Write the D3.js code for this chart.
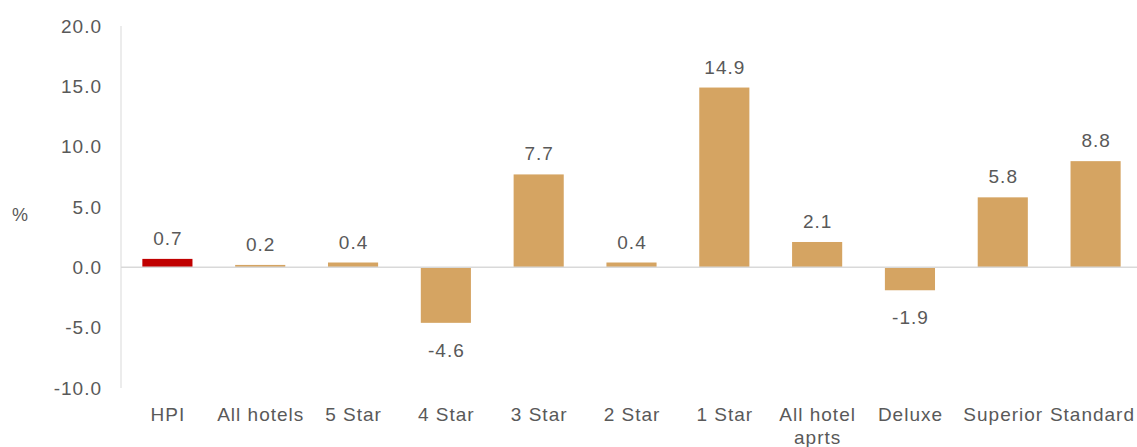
<!DOCTYPE html>
<html><head><meta charset="utf-8">
<script src="https://cdn.jsdelivr.net/npm/d3@7"></script>
<style>body{margin:0;background:#fff}text{font-family:"Liberation Sans",Arial,sans-serif}</style>
</head><body><svg id="c" width="1137" height="447"></svg>
<script>
const categories = ["HPI","All hotels","5 Star","4 Star","3 Star","2 Star","1 Star","All hotel aprts","Deluxe","Superior","Standard"];
const values = [0.7,0.2,0.4,-4.6,7.7,0.4,14.9,2.1,-1.9,5.8,8.8];
const tickValues = [-10,-5,0,5,10,15,20];
const colors = ["#c00000","#d5a462"];

const svg = d3.select("#c");
const x = d3.scaleBand().domain(categories).range([121,1142]).paddingInner(0.46).paddingOuter(0.23);
const y = d3.scaleLinear().domain([-10,20]).range([388,26]);
const txt = "#595959";
const fs = "19px", ls = "1px";
const fmt = v => v.toFixed(1);

svg.append("line").attr("x1",121).attr("x2",121).attr("y1",y(20)).attr("y2",y(-10)).attr("stroke","#d9d9d9");
const ya = svg.append("g").attr("transform","translate(102,0)")
  .call(d3.axisLeft(y).tickValues(tickValues).tickSize(0).tickPadding(0).tickFormat(fmt));
ya.select(".domain").remove();
ya.selectAll("text").attr("fill",txt).style("font-size",fs).style("letter-spacing",ls).style("font-family","Liberation Sans, Arial, sans-serif");

svg.append("text").attr("x",20).attr("y",221).attr("text-anchor","middle").attr("fill",txt).style("font-size","18px").text("%");

svg.selectAll("rect.bar").data(categories).enter().append("rect")
  .attr("x",d=>x(d)).attr("width",x.bandwidth())
  .attr("y",(d,i)=>y(Math.max(0,values[i])))
  .attr("height",(d,i)=>Math.abs(y(values[i])-y(0)))
  .attr("fill",(d,i)=>i===0?colors[0]:colors[1]);

svg.append("line").attr("x1",121).attr("x2",1137).attr("y1",y(0)).attr("y2",y(0)).attr("stroke","#d9d9d9").attr("stroke-width",1.5);

svg.selectAll("text.val").data(categories).enter().append("text")
  .attr("x",d=>x(d)+x.bandwidth()/2+0.5)
  .attr("y",(d,i)=>values[i]>=0 ? y(values[i])-14 : y(values[i])+34)
  .attr("text-anchor","middle").attr("fill",txt).style("font-size",fs).style("letter-spacing",ls)
  .text((d,i)=>fmt(values[i]));

const catLines = {"All hotel aprts":["All hotel","aprts"]};
categories.forEach(c=>{
  const lines = catLines[c]||[c];
  const cx = x(c)+x.bandwidth()/2+0.5;
  const t = svg.append("text").attr("y",421).attr("text-anchor","middle").attr("fill",txt).style("font-size",fs).style("letter-spacing",ls);
  lines.forEach((l,k)=>t.append("tspan").attr("x",cx).attr("dy",k?23:0).text(l));
  const bb = t.node().getBBox();
  const over = bb.x + bb.width - 1135;
  if (over > 0) t.selectAll("tspan").attr("x", cx - over);
});
</script></body></html>
